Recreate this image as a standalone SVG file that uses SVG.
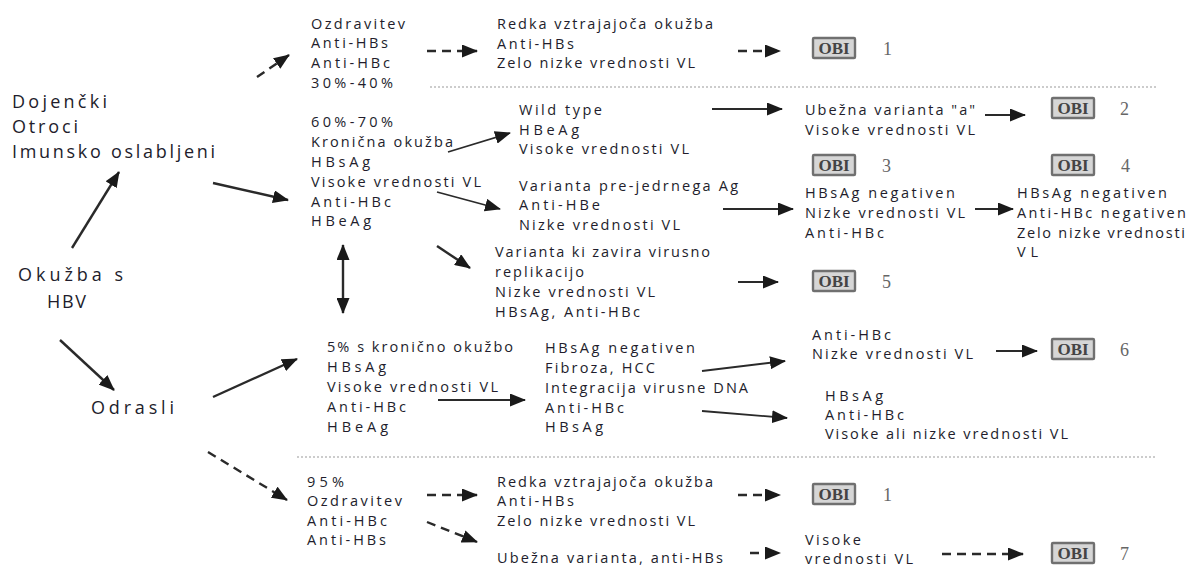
<svg xmlns="http://www.w3.org/2000/svg" width="1187" height="567" viewBox="0 0 1187 567">
  <style>
    .t { font-family: "Open Sans", "Liberation Sans", sans-serif; font-size: 14.5px; fill: #221d2c; }
    .big { font-family: "Open Sans", "Liberation Sans", sans-serif; font-size: 18px; fill: #221d2c; }
    .ln { fill: none; stroke: #2a2a2a; stroke-width: 1.8; }
    .thick { stroke-width: 2.4; }
    .dash { stroke-dasharray: 9 6; }
    .sep { stroke: #9a9a9a; stroke-width: 1.2; stroke-dasharray: 2 2; fill: none; }
    .obi-box { fill: #d6d6d6; stroke: #707070; stroke-width: 2.4; }
    .obi-txt { font-family: "Liberation Serif", serif; font-size: 17px; font-weight: bold; fill: #444444; }
    .num { font-family: "Liberation Serif", serif; font-size: 18px; fill: #666666; }
  </style>
  <defs>
    <marker id="ah" markerUnits="userSpaceOnUse" markerWidth="16" markerHeight="13" refX="15" refY="6.5" orient="auto">
      <path d="M0,0 L16,6.5 L0,13 z" fill="#1a1a1a"/>
    </marker>
    <marker id="ah-start" markerUnits="userSpaceOnUse" markerWidth="16" markerHeight="13" refX="1" refY="6.5" orient="auto">
      <path d="M16,0 L0,6.5 L16,13 z" fill="#1a1a1a"/>
    </marker>
    <g id="obi">
      <rect class="obi-box" x="0" y="0" width="42" height="20" rx="1"/>
      <text class="obi-txt" x="21" y="16" text-anchor="middle">OBI</text>
    </g>
  </defs>

  <rect width="1187" height="567" fill="#ffffff"/>

  <!-- section separators -->
  <g id="separators">
    <line class="sep" x1="430" y1="87" x2="1156" y2="87"/>
    <line class="sep" x1="297" y1="457" x2="1157" y2="457"/>
  </g>

  <!-- connectors -->
  <g id="connectors">
    <line class="ln thick" x1="72" y1="248" x2="119" y2="172" marker-end="url(#ah)"/>
    <line class="ln thick" x1="60" y1="340" x2="114" y2="390" marker-end="url(#ah)"/>
    <line class="ln thick dash" x1="257" y1="77" x2="289" y2="55" marker-end="url(#ah)"/>
    <line class="ln thick" x1="213" y1="183" x2="288" y2="200" marker-end="url(#ah)"/>
    <line class="ln thick" x1="343" y1="245" x2="343" y2="313" marker-start="url(#ah-start)" marker-end="url(#ah)"/>
    <line class="ln thick" x1="213" y1="397" x2="297" y2="359" marker-end="url(#ah)"/>
    <line class="ln thick dash" x1="208" y1="452" x2="287" y2="500" marker-end="url(#ah)"/>

    <line class="ln thick dash" x1="427" y1="51" x2="477" y2="51" marker-end="url(#ah)"/>
    <line class="ln thick dash" x1="738" y1="51" x2="780" y2="51" marker-end="url(#ah)"/>

    <line class="ln" x1="448" y1="152" x2="510" y2="133" marker-end="url(#ah)"/>
    <line class="ln" x1="712" y1="109" x2="782" y2="109" marker-end="url(#ah)"/>
    <line class="ln" x1="985" y1="115" x2="1025" y2="115" marker-end="url(#ah)"/>
    <line class="ln" x1="437" y1="192" x2="500" y2="209" marker-end="url(#ah)"/>
    <line class="ln" x1="723" y1="209" x2="793" y2="209" marker-end="url(#ah)"/>
    <line class="ln" x1="975" y1="209" x2="1013" y2="209" marker-end="url(#ah)"/>
    <line class="ln thick" x1="437" y1="246" x2="470" y2="268" marker-end="url(#ah)"/>
    <line class="ln" x1="738" y1="282" x2="778" y2="282" marker-end="url(#ah)"/>

    <line class="ln" x1="438" y1="400" x2="525" y2="400" marker-end="url(#ah)"/>
    <line class="ln" x1="702" y1="371" x2="785" y2="361" marker-end="url(#ah)"/>
    <line class="ln" x1="702" y1="411" x2="787" y2="418" marker-end="url(#ah)"/>
    <line class="ln" x1="996" y1="351" x2="1037" y2="351" marker-end="url(#ah)"/>

    <line class="ln thick dash" x1="427" y1="495" x2="477" y2="495" marker-end="url(#ah)"/>
    <line class="ln thick dash" x1="427" y1="522" x2="477" y2="542" marker-end="url(#ah)"/>
    <line class="ln thick dash" x1="738" y1="495" x2="780" y2="495" marker-end="url(#ah)"/>
    <line class="ln thick dash" x1="750" y1="553" x2="780" y2="553" marker-end="url(#ah)"/>
    <line class="ln thick dash" x1="942" y1="554" x2="1023" y2="554" marker-end="url(#ah)"/>
  </g>

  <!-- root -->
  <g id="node-okuzba">
    <text class="big" x="18" y="281" textLength="105" lengthAdjust="spacing">Okužba s</text>
    <text class="big" x="47" y="308" textLength="39" lengthAdjust="spacing">HBV</text>
  </g>

  <g id="node-dojencki">
    <text class="big" x="12" y="108" textLength="95" lengthAdjust="spacing">Dojenčki</text>
    <text class="big" x="12" y="133" textLength="66" lengthAdjust="spacing">Otroci</text>
    <text class="big" x="12" y="158" textLength="203" lengthAdjust="spacing">Imunsko oslabljeni</text>
  </g>

  <g id="node-odrasli">
    <text class="big" x="91" y="414" textLength="83" lengthAdjust="spacing">Odrasli</text>
  </g>

  <!-- children branch -->
  <g id="node-ozdravitev-otroci">
    <text class="t" x="311" y="29" textLength="94" lengthAdjust="spacing">Ozdravitev</text>
    <text class="t" x="311" y="48" textLength="77" lengthAdjust="spacing">Anti-HBs</text>
    <text class="t" x="311" y="68" textLength="79" lengthAdjust="spacing">Anti-HBc</text>
    <text class="t" x="311" y="88" textLength="82" lengthAdjust="spacing">30%-40%</text>
  </g>

  <g id="node-redka-1">
    <text class="t" x="497" y="29" textLength="216" lengthAdjust="spacing">Redka vztrajajoča okužba</text>
    <text class="t" x="497" y="49" textLength="77" lengthAdjust="spacing">Anti-HBs</text>
    <text class="t" x="497" y="68" textLength="198" lengthAdjust="spacing">Zelo nizke vrednosti VL</text>
  </g>

  <g id="node-obi-1a">
    <use href="#obi" x="813" y="38"/>
    <text class="num" x="883" y="55">1</text>
  </g>

  <g id="node-kronicna">
    <text class="t" x="311" y="127" textLength="82" lengthAdjust="spacing">60%-70%</text>
    <text class="t" x="311" y="147" textLength="142" lengthAdjust="spacing">Kronična okužba</text>
    <text class="t" x="311" y="167" textLength="59" lengthAdjust="spacing">HBsAg</text>
    <text class="t" x="311" y="187" textLength="170" lengthAdjust="spacing">Visoke vrednosti VL</text>
    <text class="t" x="311" y="207" textLength="80" lengthAdjust="spacing">Anti-HBc</text>
    <text class="t" x="311" y="226" textLength="60" lengthAdjust="spacing">HBeAg</text>
  </g>

  <g id="node-wild">
    <text class="t" x="519" y="115" textLength="83" lengthAdjust="spacing">Wild type</text>
    <text class="t" x="519" y="135" textLength="60" lengthAdjust="spacing">HBeAg</text>
    <text class="t" x="519" y="154" textLength="170" lengthAdjust="spacing">Visoke vrednosti VL</text>
  </g>

  <g id="node-ubezna-a">
    <text class="t" x="805" y="115" textLength="170" lengthAdjust="spacing">Ubežna varianta "a"</text>
    <text class="t" x="805" y="135" textLength="170" lengthAdjust="spacing">Visoke vrednosti VL</text>
  </g>

  <g id="node-obi-2">
    <use href="#obi" x="1052" y="98"/>
    <text class="num" x="1120" y="115">2</text>
  </g>

  <g id="node-prejedrni">
    <text class="t" x="519" y="191" textLength="219" lengthAdjust="spacing">Varianta pre-jedrnega Ag</text>
    <text class="t" x="519" y="210" textLength="81" lengthAdjust="spacing">Anti-HBe</text>
    <text class="t" x="519" y="230" textLength="161" lengthAdjust="spacing">Nizke vrednosti VL</text>
  </g>

  <g id="node-obi-3">
    <use href="#obi" x="813" y="155"/>
    <text class="num" x="882" y="172">3</text>
  </g>

  <g id="node-hbsag-neg-1">
    <text class="t" x="805" y="198" textLength="150" lengthAdjust="spacing">HBsAg negativen</text>
    <text class="t" x="805" y="218" textLength="160" lengthAdjust="spacing">Nizke vrednosti VL</text>
    <text class="t" x="805" y="238" textLength="79" lengthAdjust="spacing">Anti-HBc</text>
  </g>

  <g id="node-obi-4">
    <use href="#obi" x="1052" y="155"/>
    <text class="num" x="1121" y="172">4</text>
  </g>

  <g id="node-hbsag-neg-2">
    <text class="t" x="1017" y="198" textLength="150" lengthAdjust="spacing">HBsAg negativen</text>
    <text class="t" x="1017" y="218" textLength="169" lengthAdjust="spacing">Anti-HBc negativen</text>
    <text class="t" x="1017" y="238" textLength="168" lengthAdjust="spacing">Zelo nizke vrednosti</text>
    <text class="t" x="1017" y="257" textLength="21" lengthAdjust="spacing">VL</text>
  </g>

  <g id="node-zavira">
    <text class="t" x="495" y="257" textLength="215" lengthAdjust="spacing">Varianta ki zavira virusno</text>
    <text class="t" x="495" y="277" textLength="89" lengthAdjust="spacing">replikacijo</text>
    <text class="t" x="495" y="297" textLength="160" lengthAdjust="spacing">Nizke vrednosti VL</text>
    <text class="t" x="495" y="317" textLength="145" lengthAdjust="spacing">HBsAg, Anti-HBc</text>
  </g>

  <g id="node-obi-5">
    <use href="#obi" x="813" y="271"/>
    <text class="num" x="882" y="288">5</text>
  </g>

  <!-- adult branch -->
  <g id="node-kronicna-odrasli">
    <text class="t" x="327" y="352" textLength="186" lengthAdjust="spacing">5% s kronično okužbo</text>
    <text class="t" x="327" y="372" textLength="59" lengthAdjust="spacing">HBsAg</text>
    <text class="t" x="327" y="392" textLength="171" lengthAdjust="spacing">Visoke vrednosti VL</text>
    <text class="t" x="327" y="412" textLength="79" lengthAdjust="spacing">Anti-HBc</text>
    <text class="t" x="327" y="432" textLength="61" lengthAdjust="spacing">HBeAg</text>
  </g>

  <g id="node-fibroza">
    <text class="t" x="545" y="353" textLength="150" lengthAdjust="spacing">HBsAg negativen</text>
    <text class="t" x="545" y="373" textLength="110" lengthAdjust="spacing">Fibroza, HCC</text>
    <text class="t" x="545" y="393" textLength="203" lengthAdjust="spacing">Integracija virusne DNA</text>
    <text class="t" x="545" y="413" textLength="79" lengthAdjust="spacing">Anti-HBc</text>
    <text class="t" x="545" y="432" textLength="58" lengthAdjust="spacing">HBsAg</text>
  </g>

  <g id="node-antihbc-nizke">
    <text class="t" x="812" y="340" textLength="79" lengthAdjust="spacing">Anti-HBc</text>
    <text class="t" x="812" y="359" textLength="161" lengthAdjust="spacing">Nizke vrednosti VL</text>
  </g>

  <g id="node-obi-6">
    <use href="#obi" x="1052" y="339"/>
    <text class="num" x="1120" y="356">6</text>
  </g>

  <g id="node-hbsag-visoke-nizke">
    <text class="t" x="825" y="401" textLength="58" lengthAdjust="spacing">HBsAg</text>
    <text class="t" x="825" y="420" textLength="79" lengthAdjust="spacing">Anti-HBc</text>
    <text class="t" x="825" y="439" textLength="243" lengthAdjust="spacing">Visoke ali nizke vrednosti VL</text>
  </g>

  <g id="node-ozdravitev-odrasli">
    <text class="t" x="307" y="487" textLength="37" lengthAdjust="spacing">95%</text>
    <text class="t" x="307" y="506" textLength="95" lengthAdjust="spacing">Ozdravitev</text>
    <text class="t" x="307" y="526" textLength="80" lengthAdjust="spacing">Anti-HBc</text>
    <text class="t" x="307" y="545" textLength="79" lengthAdjust="spacing">Anti-HBs</text>
  </g>

  <g id="node-redka-2">
    <text class="t" x="497" y="487" textLength="216" lengthAdjust="spacing">Redka vztrajajoča okužba</text>
    <text class="t" x="497" y="506" textLength="77" lengthAdjust="spacing">Anti-HBs</text>
    <text class="t" x="497" y="526" textLength="198" lengthAdjust="spacing">Zelo nizke vrednosti VL</text>
  </g>

  <g id="node-obi-1b">
    <use href="#obi" x="813" y="484"/>
    <text class="num" x="883" y="501">1</text>
  </g>

  <g id="node-ubezna-antihbs">
    <text class="t" x="497" y="563" textLength="226" lengthAdjust="spacing">Ubežna varianta, anti-HBs</text>
  </g>

  <g id="node-visoke">
    <text class="t" x="805" y="545" textLength="56" lengthAdjust="spacing">Visoke</text>
    <text class="t" x="805" y="564" textLength="108" lengthAdjust="spacing">vrednosti VL</text>
  </g>

  <g id="node-obi-7">
    <use href="#obi" x="1052" y="543"/>
    <text class="num" x="1120" y="560">7</text>
  </g>
</svg>
